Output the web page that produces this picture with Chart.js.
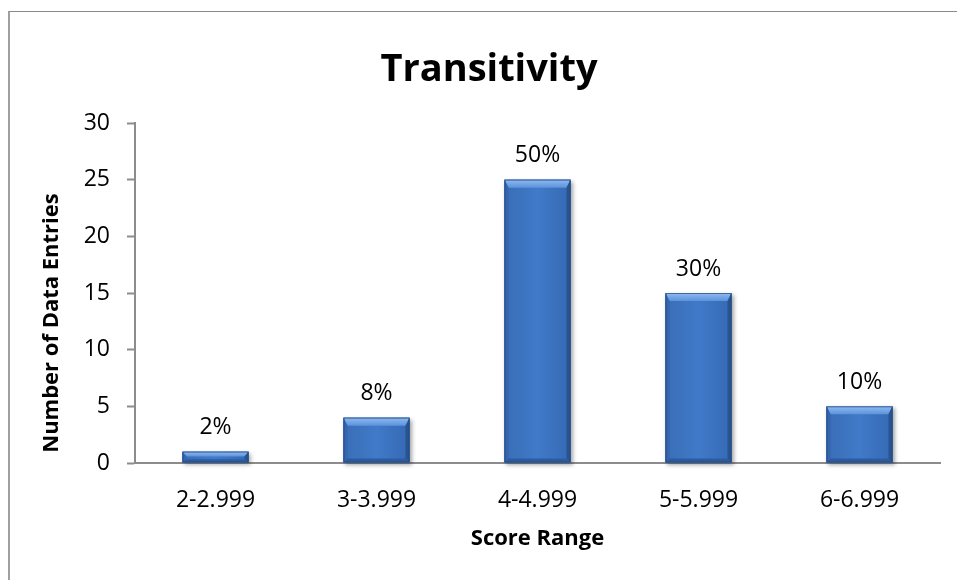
<!DOCTYPE html>
<html><head><meta charset="utf-8">
<script src="https://cdn.jsdelivr.net/npm/chart.js@4"></script>
<style>
html,body{margin:0;padding:0;background:#fff;overflow:hidden}
#wrap{position:relative;width:957px;height:580px;overflow:hidden}
#frame{position:absolute;left:8px;top:11px;width:1200px;height:1000px;border-left:2px solid #a0a0a0;border-top:1px solid #8a8a8a}
canvas{position:absolute;left:0;top:0}
</style></head><body>
<div id="wrap"><div id="frame"></div><canvas id="c" width="957" height="580"></canvas></div>
<script>
// Score ranges and how many entries fall into each
const scoreRanges = ['2-2.999', '3-3.999', '4-4.999', '5-5.999', '6-6.999'];
const entryCounts = [1, 4, 25, 15, 5];
const yMin = 0, yMax = 30, yStep = 5;
const chartTitle = 'Transitivity';
const yTitle = 'Number of Data Entries';
const xTitle = 'Score Range';

const FONT = '"Open Sans", Lato, "Liberation Sans", sans-serif';
const totalEntries = entryCounts.reduce((a, b) => a + b, 0);

// Soft drop shadow behind each bar
const shadowPlugin = {
  id: 'barShadow',
  beforeDatasetsDraw(chart) {
    const ctx = chart.ctx;
    ctx.save();
    chart.getDatasetMeta(0).data.forEach(bar => {
      const p = bar.getProps(['x', 'y', 'base', 'width'], true);
      const l = p.x - p.width / 2;
      ctx.shadowColor = 'rgba(0,0,0,0.35)';
      ctx.shadowBlur = 4;
      ctx.shadowOffsetX = 2;
      ctx.shadowOffsetY = 2;
      ctx.fillStyle = '#4a7cc0';
      ctx.fillRect(l, p.y, p.width, p.base - p.y);
    });
    ctx.restore();
  }
};

// Bevelled edges drawn over the flat bars
const bevelPlugin = {
  id: 'bevel',
  afterDatasetsDraw(chart) {
    const ctx = chart.ctx;
    ctx.save();
    chart.getDatasetMeta(0).data.forEach(bar => {
      const p = bar.getProps(['x', 'y', 'base', 'width'], true);
      const l = p.x - p.width / 2, r = p.x + p.width / 2, t = p.y, b = p.base;
      const h = b - t;
      const tv = Math.min(8, h * 0.45);
      const bv = Math.min(4, h * 0.3);
      const sv = Math.min(4, p.width / 2);

      // body
      const body = ctx.createLinearGradient(l, 0, r, 0);
      body.addColorStop(0, '#3a6db6');
      body.addColorStop(0.5, '#407ac8');
      body.addColorStop(1, '#3569b4');
      ctx.fillStyle = body;
      ctx.fillRect(l, t, p.width, h);

      // top bevel
      const top = ctx.createLinearGradient(0, t, 0, t + tv);
      top.addColorStop(0, '#8fbaf0');
      top.addColorStop(1, '#5c93dc');
      ctx.fillStyle = top;
      ctx.beginPath();
      ctx.moveTo(l, t); ctx.lineTo(r, t); ctx.lineTo(r - sv, t + tv); ctx.lineTo(l + sv, t + tv);
      ctx.closePath(); ctx.fill();

      // left side
      ctx.fillStyle = '#3566ad';
      ctx.beginPath();
      ctx.moveTo(l, t); ctx.lineTo(l + sv, t + tv); ctx.lineTo(l + sv, b - bv); ctx.lineTo(l, b);
      ctx.closePath(); ctx.fill();

      // right side
      ctx.fillStyle = '#29558f';
      ctx.beginPath();
      ctx.moveTo(r, t); ctx.lineTo(r - sv, t + tv); ctx.lineTo(r - sv, b - bv); ctx.lineTo(r, b);
      ctx.closePath(); ctx.fill();

      // bottom
      ctx.fillStyle = '#2d5c9e';
      ctx.beginPath();
      ctx.moveTo(l, b); ctx.lineTo(l + sv, b - bv); ctx.lineTo(r - sv, b - bv); ctx.lineTo(r, b);
      ctx.closePath(); ctx.fill();

      ctx.strokeStyle = 'rgba(35,70,125,0.7)';
      ctx.lineWidth = 1;
      ctx.strokeRect(l + 0.5, t + 0.5, p.width - 1, h - 1);
    });
    ctx.restore();
  }
};

// Share of all entries printed above each bar
const shareLabels = {
  id: 'shareLabels',
  afterDatasetsDraw(chart) {
    const ctx = chart.ctx;
    ctx.save();
    ctx.font = '23px ' + FONT;
    ctx.fillStyle = '#000';
    ctx.textAlign = 'center';
    ctx.textBaseline = 'middle';
    chart.getDatasetMeta(0).data.forEach((bar, i) => {
      const pct = Math.round(entryCounts[i] / totalEntries * 100);
      ctx.fillText(pct + '%', bar.x, bar.y - 24);
    });
    ctx.restore();
  }
};

// Chart heading and the value-axis caption
const headings = {
  id: 'headings',
  afterDraw(chart) {
    const ctx = chart.ctx;
    const area = chart.chartArea;
    ctx.save();
    ctx.fillStyle = '#000';
    ctx.textAlign = 'center';
    ctx.textBaseline = 'middle';
    ctx.font = 'bold 38px ' + FONT;
    ctx.fillText(chartTitle, 489, 70);
    ctx.translate(52, area.bottom - 140);
    ctx.rotate(-Math.PI / 2);
    ctx.font = 'bold 22px ' + FONT;
    ctx.fillText(yTitle, 0, 0);
    ctx.restore();
  }
};

new Chart(document.getElementById('c'), {
  type: 'bar',
  data: {
    labels: scoreRanges,
    datasets: [{
      data: entryCounts,
      backgroundColor: '#3f78c6',
      borderWidth: 0,
      barPercentage: 0.41,
      categoryPercentage: 1
    }]
  },
  options: {
    responsive: false,
    animation: false,
    events: [],
    layout: { padding: { left: 0, right: 17, top: 123, bottom: 0 } },
    plugins: {
      legend: { display: false },
      tooltip: { enabled: false },
      title: { display: false }
    },
    scales: {
      x: {
        grid: { display: false, drawTicks: false },
        border: { display: true, color: '#8c8c8c', width: 2 },
        ticks: { color: '#000', font: { family: FONT, size: 23 }, padding: 24, maxRotation: 0 },
        title: {
          display: true, text: xTitle, color: '#000',
          font: { family: FONT, size: 22, weight: 'bold', lineHeight: 1.2 },
          padding: { top: 10, bottom: 28 }
        },
        afterFit(s) { s.height = 117; }
      },
      y: {
        min: yMin, max: yMax,
        grid: { drawOnChartArea: false, drawTicks: true, tickLength: 8, color: '#8c8c8c', tickWidth: 2 },
        border: { display: true, color: '#8c8c8c', width: 2 },
        ticks: { stepSize: yStep, color: '#000', font: { family: FONT, size: 23 }, padding: 17 },
        afterFit(s) { s.width = 135; }
      }
    }
  },
  plugins: [shadowPlugin, bevelPlugin, shareLabels, headings]
});
</script>
</body></html>
